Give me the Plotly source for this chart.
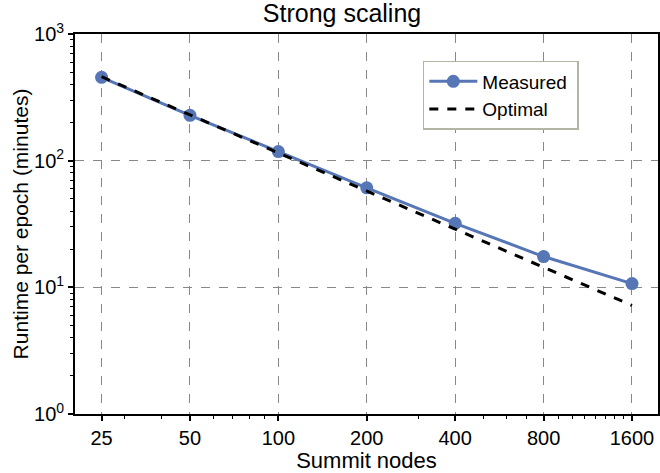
import math
import plotly.graph_objects as go

nodes = [25, 50, 100, 200, 400, 800, 1600]
measured = [455, 228, 118, 61, 32, 17.5, 10.7]
optimal = [460, 230, 115, 57.5, 28.75, 14.4, 7.2]
x_tick_labels = ["25", "50", "100", "200", "400", "800", "1600"]
y_tick_vals = [1, 10, 100, 1000]
y_tick_labels = ["10<sup>0</sup>", "10<sup>1</sup>", "10<sup>2</sup>", "10<sup>3</sup>"]
x_minor = [30, 40, 60, 70, 80, 90, 300, 500, 600, 700, 900, 1000, 1100, 1200, 1300, 1400, 1500]
y_minor = [m * d for d in (1, 10, 100) for m in range(2, 10)]

FONT = "Liberation Sans, Arial, sans-serif"
BLUE = "#5676b6"

fig = go.Figure()
fig.add_trace(go.Scatter(
    x=nodes, y=measured, name="Measured\u00a0", mode="lines+markers",
    line=dict(color=BLUE, width=3), marker=dict(color=BLUE, size=13),
))
fig.add_trace(go.Scatter(
    x=nodes, y=optimal, name="Optimal", mode="lines",
    line=dict(color="black", width=3, dash="dash"),
))

axis_common = dict(
    showline=True, linecolor="black", linewidth=1.8, mirror=True,
    ticks="outside", ticklen=5, tickwidth=1.5, tickcolor="black",
    showgrid=True, gridcolor="#888888", gridwidth=1.4, griddash="dash",
    zeroline=False, automargin=False,
    tickfont=dict(family=FONT, size=20, color="black"),
)

fig.update_xaxes(
    type="log", range=[math.log10(20.3), math.log10(1962)],
    tickmode="array", tickvals=nodes, ticktext=x_tick_labels,
    minor=dict(tickmode="array", tickvals=x_minor, ticks="outside", ticklen=3,
               tickwidth=1.2, tickcolor="black", showgrid=False),
    title=dict(text="Summit nodes", font=dict(family=FONT, size=22, color="black"), standoff=0),
    **axis_common,
)
fig.update_yaxes(
    type="log", range=[0, 3],
    tickmode="array", tickvals=y_tick_vals, ticktext=y_tick_labels,
    minor=dict(tickmode="array", tickvals=y_minor, ticks="outside", ticklen=3,
               tickwidth=1.2, tickcolor="black", showgrid=False),
    title=dict(text="Runtime per epoch (minutes)", font=dict(family=FONT, size=21, color="black"), standoff=0),
    **axis_common,
)

fig.update_layout(
    width=660, height=473,
    margin=dict(l=75, r=2, t=34, b=59),
    paper_bgcolor="white", plot_bgcolor="white",
    title=dict(text="Strong scaling", x=0.458, xref="paper", xanchor="center",
               yref="container", y=1 - 13 / 473, yanchor="middle",
               font=dict(family=FONT, size=25, color="black")),
    legend=dict(x=0.5966, y=0.929, xanchor="left", yanchor="top",
                bgcolor="white", bordercolor="#b4b4a4", borderwidth=1.5,
                font=dict(family=FONT, size=19, color="black"),
                itemwidth=48, tracegroupgap=0),
    showlegend=True,
)

fig.write_html(
    "out.html",
    config={"displayModeBar": False},
    post_script="document.body.style.margin='0';document.body.style.padding='0';",
)
